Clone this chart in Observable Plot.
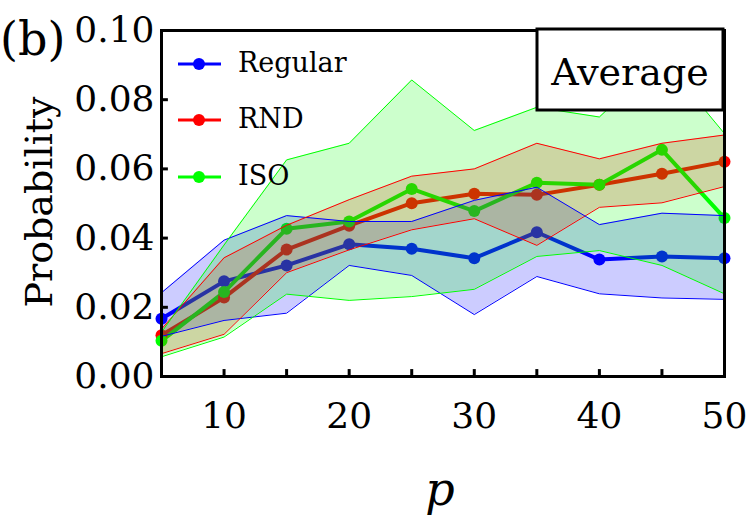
<!DOCTYPE html>
<html><head><meta charset="utf-8">
<script src="https://cdn.jsdelivr.net/npm/d3@7"></script>
<script src="https://cdn.jsdelivr.net/npm/@observablehq/plot@0.6"></script>
<style>body{margin:0;background:#fff} svg{display:block}</style>
</head><body><div id="chart"></div>
<script>
const ps = [5, 10, 15, 20, 25, 30, 35, 40, 45, 50];
const regular   = [0.0167, 0.0275, 0.0321, 0.0382, 0.0369, 0.0342, 0.0417, 0.0338, 0.0347, 0.0342];
const regularLo = [0.0116, 0.0162, 0.0183, 0.0321, 0.0292, 0.0179, 0.0289, 0.0239, 0.0227, 0.0223];
const regularHi = [0.0242, 0.0394, 0.0465, 0.0448, 0.0448, 0.0509, 0.0547, 0.0439, 0.0472, 0.0465];
const rnd       = [0.0119, 0.0228, 0.0367, 0.0436, 0.0501, 0.0528, 0.0525, 0.0554, 0.0586, 0.0621];
const rndLo     = [0.0066, 0.0122, 0.0300, 0.0366, 0.0424, 0.0456, 0.0379, 0.0489, 0.0502, 0.0549];
const rndHi     = [0.0137, 0.0343, 0.0437, 0.0511, 0.0579, 0.0600, 0.0674, 0.0629, 0.0674, 0.0698];
const iso       = [0.0103, 0.0244, 0.0427, 0.0448, 0.0542, 0.0478, 0.0560, 0.0554, 0.0655, 0.0458];
const isoLo     = [0.0057, 0.0114, 0.0238, 0.0220, 0.0231, 0.0252, 0.0347, 0.0364, 0.0321, 0.0239];
const isoHi     = [0.0128, 0.0380, 0.0626, 0.0674, 0.0857, 0.0711, 0.0778, 0.0750, 0.0920, 0.0702];

const seriesNames = ["Regular", "RND", "ISO"];
const seriesColors = ["#0000ff", "#ff0000", "#00ff00"];
const xTicks = [10, 15, 20, 25, 30, 35, 40, 45];
const xLabels = [10, 20, 30, 40, 50];
const yTicks = [0, 0.02, 0.04, 0.06, 0.08, 0.10];
const yInnerTicks = [0.02, 0.04, 0.06, 0.08];
const panelLabel = "(b)";
const boxLabel = "Average";
const xTitle = "p";
const yTitle = "Probability";

const seriesData = [[regular, regularLo, regularHi], [rnd, rndLo, rndHi], [iso, isoLo, isoHi]];
const table = [];
seriesNames.forEach((name, s) => {
  ps.forEach((p, i) => {
    table.push({series: name, p, v: seriesData[s][0][i], lo: seriesData[s][1][i], hi: seriesData[s][2][i]});
  });
});

const chart = Plot.plot({
  width: 747, height: 531,
  marginLeft: 161, marginRight: 23, marginTop: 30, marginBottom: 155,
  style: {fontFamily: "DejaVu Serif", background: "white", overflow: "visible", color: "black"},
  x: {domain: [5, 50]},
  y: {domain: [0, 0.1]},
  color: {domain: seriesNames, range: seriesColors},
  marks: [
    Plot.line(table, {x: "p", y: "v", stroke: "series", strokeWidth: 4}),
    Plot.dot(table, {x: "p", y: "v", fill: "series", r: 6}),
    Plot.areaY(table, {x: "p", y1: "lo", y2: "hi", fill: "series", z: "series", fillOpacity: 0.2}),
    Plot.line(table, {x: "p", y: "lo", stroke: "series", strokeWidth: 1}),
    Plot.line(table, {x: "p", y: "hi", stroke: "series", strokeWidth: 1}),
    Plot.frame({stroke: "black", strokeWidth: 3}),
    Plot.ruleX(xTicks, {x: d => d, y1: 0, y2: 0.002, stroke: "black", strokeWidth: 3}),
    Plot.ruleY(yInnerTicks, {y: d => d, x1: 5, x2: 5.55, stroke: "black", strokeWidth: 3}),
    Plot.axisX({ticks: xLabels, tickSize: 0, tickPadding: 26, fontSize: 36, label: null}),
    Plot.axisY({ticks: yTicks, tickFormat: d3.format(".2f"), tickSize: 0, tickPadding: 7, fontSize: 36, label: null})
  ]
});
document.getElementById("chart").appendChild(chart);

const svg = d3.select(chart);
const font = "DejaVu Serif";
// panel label
svg.append("text").attr("x", 0).attr("y", 55).attr("text-anchor", "start").attr("font-family", font)
  .attr("font-size", 46).attr("fill", "black").text(panelLabel);
// y title
svg.append("text").attr("transform", "translate(52,202) rotate(-90)").attr("text-anchor", "middle")
  .attr("font-family", font).attr("font-size", 38).attr("fill", "black").text(yTitle);
// x title
svg.append("text").attr("x", 440).attr("y", 505).attr("text-anchor", "middle")
  .attr("font-family", font).attr("font-style", "italic").attr("font-size", 46).attr("fill", "black").text(xTitle);
// legend
const legendY = [64, 120, 177];
seriesNames.forEach((name, i) => {
  const g = svg.append("g");
  g.append("line").attr("x1", 178).attr("x2", 221).attr("y1", legendY[i]).attr("y2", legendY[i])
    .attr("stroke", seriesColors[i]).attr("stroke-width", 3);
  g.append("circle").attr("cx", 199).attr("cy", legendY[i]).attr("r", 6).attr("fill", seriesColors[i]);
  g.append("text").attr("x", 238).attr("y", legendY[i] + 8).attr("text-anchor", "start")
    .attr("font-family", font).attr("font-size", 27).attr("fill", "black").text(name);
});
// Average box
svg.append("rect").attr("x", 537).attr("y", 29).attr("width", 186).attr("height", 81)
  .attr("fill", "white").attr("stroke", "black").attr("stroke-width", 3);
svg.append("text").attr("x", 630).attr("y", 85).attr("text-anchor", "middle")
  .attr("font-family", font).attr("font-size", 38).attr("fill", "black").text(boxLabel);
</script>
</body></html>
